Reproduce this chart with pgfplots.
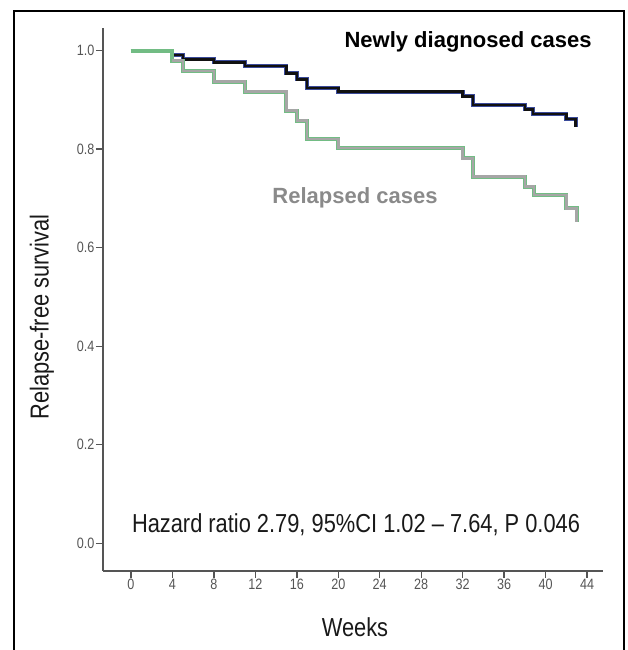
\documentclass[border=0pt]{standalone}
\usepackage{fontspec}
\setmainfont{Liberation Sans}
\newfontfamily\narrowfont{Liberation Sans}[FakeStretch=0.84]
\usepackage{pgfplots}
\pgfplotsset{compat=1.18}
\definecolor{navyedge}{HTML}{3A4A9A}
\definecolor{darkline}{HTML}{111111}
\definecolor{greenedge}{HTML}{72BC84}
\definecolor{grayline}{HTML}{A6A6A6}
\definecolor{axgray}{HTML}{555555}
\definecolor{relgray}{HTML}{8A8A8A}
\begin{document}
\begin{tikzpicture}[x=1pt,y=1pt]
\useasboundingbox (0,0) rectangle (628,650);
\draw[line width=2.5pt, black] (14,-10) -- (14,639) -- (624,639) -- (624,-10);
\begin{axis}[
  at={(103pt,79.3pt)}, anchor=south west,
  scale only axis, width=500pt, height=542.7pt,
  xmin=-2.70, xmax=45.54, ymin=-0.0556, ymax=1.046,
  axis x line*=bottom, axis y line*=left,
  axis line style={axgray, line width=1.8pt, -},
  xtick={0,4,...,44}, ytick={0,0.2,...,1.0},
  tick align=outside, major tick length=7pt,
  tick style={axgray, line width=1.4pt},
  /pgf/number format/assume math mode=true,
  yticklabel style={/pgf/number format/.cd, fixed, fixed zerofill, precision=1},
  ticklabel style={font=\narrowfont\fontsize{15}{17}\selectfont, text=axgray, inner sep=1.5pt},
  clip=false,
]
\addplot[const plot, navyedge, line width=4pt, line join=miter] coordinates {
 (0,1.0) (4,0.991) (5,0.9825) (8,0.9765) (11,0.969) (15,0.954) (16,0.942) (17,0.924)
 (20,0.917) (32,0.907) (33,0.890) (38,0.881) (38.8,0.8715) (42,0.861) (42.9,0.846)};
\addplot[const plot, darkline, line width=2.6pt, line join=miter] coordinates {
 (0,1.0) (4,0.991) (5,0.9825) (8,0.9765) (11,0.969) (15,0.954) (16,0.942) (17,0.924)
 (20,0.917) (32,0.907) (33,0.890) (38,0.881) (38.8,0.8715) (42,0.861) (42.9,0.846)};
\addplot[const plot, greenedge, line width=4pt, line join=miter] coordinates {
 (0,1.0) (4,0.980) (5,0.959) (8,0.937) (11,0.917) (15,0.878) (16,0.858) (17,0.821)
 (20,0.802) (32,0.7816) (33,0.744) (38,0.724) (38.9,0.707) (42,0.680) (43,0.653)};
\addplot[const plot, grayline, line width=2.6pt, line join=miter] coordinates {
 (4,0.980) (5,0.959) (8,0.937) (11,0.917) (15,0.878) (16,0.858) (17,0.821)
 (20,0.802) (32,0.7816) (33,0.744) (38,0.724) (38.9,0.707) (42,0.680) (43,0.653)};
\node[font=\fontsize{22}{26}\selectfont\bfseries, text=black] at (axis cs:32.52,1.0177) {Newly diagnosed cases};
\node[font=\fontsize{22}{26}\selectfont\bfseries, text=relgray] at (axis cs:21.61,0.701) {Relapsed cases};
\node[font=\narrowfont\fontsize{26}{30}\selectfont, text=black!90] at (axis cs:21.71,0.0372) {Hazard ratio 2.79, 95\%CI 1.02 – 7.64, P 0.046};
\node[font=\narrowfont\fontsize{26}{30}\selectfont, text=black!90] at (axis cs:21.61,-0.170) {Weeks};
\node[font=\narrowfont\fontsize{26}{30}\selectfont, text=black!90, rotate=90] at (axis cs:-8.59,0.4594) {Relapse-free survival};
\end{axis}
\end{tikzpicture}
\end{document}
